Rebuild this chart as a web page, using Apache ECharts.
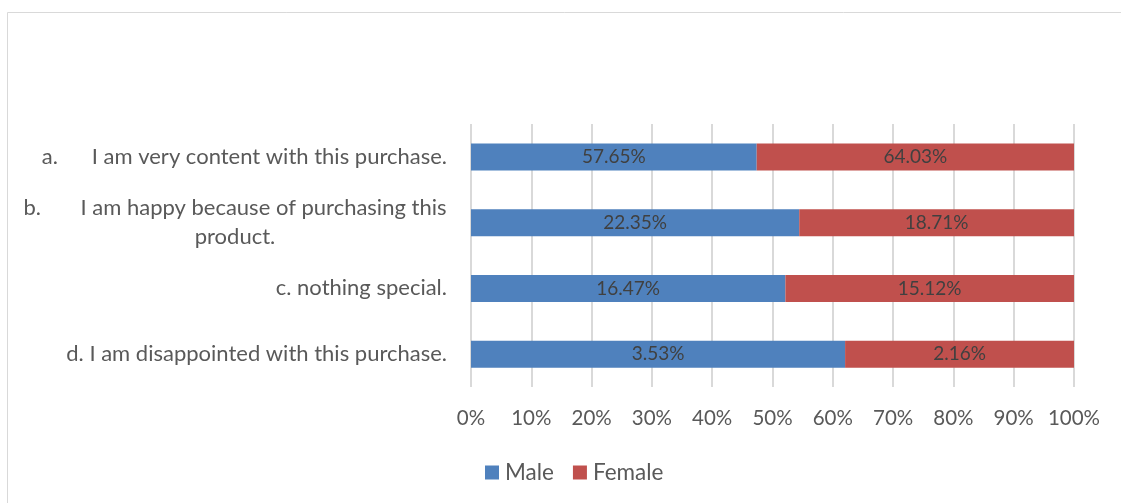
<!DOCTYPE html>
<html>
<head>
<meta charset="utf-8">
<script src="https://cdn.jsdelivr.net/npm/echarts@6/dist/echarts.min.js"></script>
<style>
  html, body { margin: 0; padding: 0; background: #ffffff; }
  #chart { width: 1121px; height: 503px; }
</style>
</head>
<body>
<div id="chart"></div>
<script>
// Survey responses by gender (percent of each group)
const categories = [
  'a.\u00a0\u00a0\u00a0\u00a0\u00a0\u00a0I am very content with this purchase.',
  'b.\u00a0\u00a0\u00a0\u00a0\u00a0\u00a0\u00a0I am happy because of purchasing this\nproduct.',
  'c. nothing special.',
  'd. I am disappointed with this purchase.'
];
const maleValues = [57.65, 22.35, 16.47, 3.53];
const femaleValues = [64.03, 18.71, 15.12, 2.16];
const axisTicks = [0, 10, 20, 30, 40, 50, 60, 70, 80, 90, 100];

// 100% stacked: each row is scaled to its own total
const totals = maleValues.map((m, i) => m + femaleValues[i]);
const maleShare = maleValues.map((m, i) => (m / totals[i]) * 100);
const femaleShare = femaleValues.map((f, i) => (f / totals[i]) * 100);

const FONT = 'Lato';
const TEXT = '#595959';
const chart = echarts.init(document.getElementById('chart'), null, { renderer: 'canvas' });

function barLabel(raw) {
  return {
    show: true,
    position: 'inside',
    color: '#404040',
    fontFamily: FONT,
    fontSize: 19,
    formatter: (p) => raw[p.dataIndex].toFixed(2) + '%'
  };
}

chart.setOption({
  animation: false,
  backgroundColor: '#ffffff',
  graphic: [{
    type: 'rect',
    shape: { x: 7.5, y: 12.5, width: 1130, height: 520 },
    style: { fill: 'none', stroke: '#D9D9D9', lineWidth: 1 },
    silent: true
  }],
  grid: { left: 471, right: 47, top: 124, bottom: 116, containLabel: false },
  legend: {
    bottom: 14,
    left: 480,
    itemWidth: 14,
    itemHeight: 14,
    itemGap: 19,
    icon: 'rect',
    textStyle: { color: TEXT, fontFamily: FONT, fontSize: 22.5, padding: [0, 0, 0, 1] },
    data: ['Male', 'Female']
  },
  xAxis: {
    type: 'value',
    min: axisTicks[0],
    max: axisTicks[axisTicks.length - 1],
    interval: axisTicks[1] - axisTicks[0],
    axisLine: { show: false },
    axisTick: { show: false },
    splitLine: { show: true, lineStyle: { color: '#D9D9D9', width: 2 } },
    axisLabel: {
      color: TEXT,
      fontFamily: FONT,
      fontSize: 20.5,
      margin: 21,
      formatter: '{value}%'
    }
  },
  yAxis: {
    type: 'category',
    inverse: true,
    data: categories,
    axisLine: { show: false },
    axisTick: { show: false },
    axisLabel: {
      color: TEXT,
      fontFamily: FONT,
      fontSize: 22,
      margin: 24,
      lineHeight: 29,
      formatter: (v) => v.indexOf('\n') >= 0
        ? v.split('\n').map((s) => '{w|' + s + '}').join('\n')
        : v,
      rich: {
        w: { width: 424, align: 'center', color: TEXT, fontFamily: FONT, fontSize: 22, lineHeight: 29 }
      }
    }
  },
  series: [
    {
      name: 'Male',
      type: 'bar',
      stack: 'total',
      barWidth: 27,
      itemStyle: { color: '#4F81BD' },
      label: barLabel(maleValues),
      data: maleShare
    },
    {
      name: 'Female',
      type: 'bar',
      stack: 'total',
      barWidth: 27,
      itemStyle: { color: '#C0504D' },
      label: barLabel(femaleValues),
      data: femaleShare
    }
  ]
});
</script>
</body>
</html>
